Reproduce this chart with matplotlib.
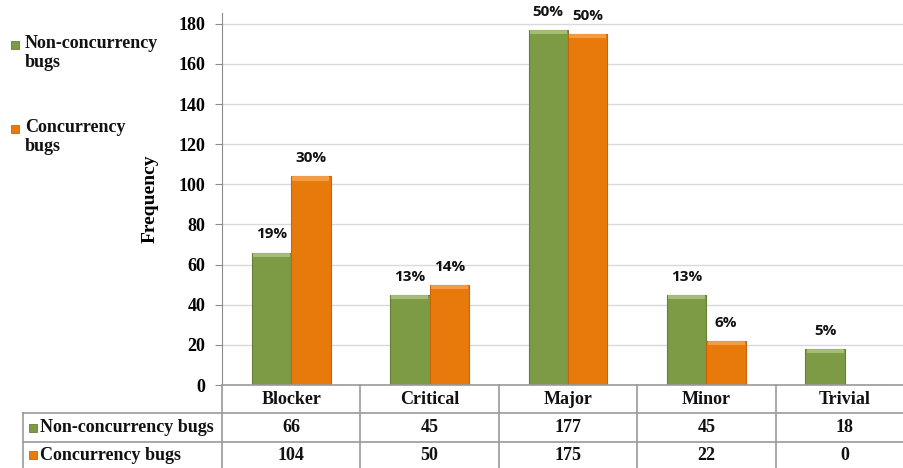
import matplotlib
matplotlib.use("Agg")
import matplotlib.pyplot as plt
from matplotlib.patches import Rectangle
from matplotlib.lines import Line2D
import numpy as np

categories = ["Blocker", "Critical", "Major", "Minor", "Trivial"]
non_conc = [66, 45, 177, 45, 18]
conc = [104, 50, 175, 22, 0]
non_conc_pct = ["19%", "13%", "50%", "13%", "5%"]
conc_pct = ["30%", "14%", "50%", "6%", ""]
series_names = ["Non-concurrency bugs", "Concurrency bugs"]
legend_names = ["Non-concurrency\nbugs", "Concurrency\nbugs"]
yticks = [0, 20, 40, 60, 80, 100, 120, 140, 160, 180]

W, H = 904, 468
fig = plt.figure(figsize=(W / 100, H / 100), dpi=100)

def fx(px):
    return px / W

def fy(py):
    return 1 - py / H

ax_left, ax_right, ax_top, ax_bot = 222, 914, 13, 385
ax = fig.add_axes([fx(ax_left), fy(ax_bot), fx(ax_right - ax_left), (ax_bot - ax_top) / H])

green = "#7d9a45"
green_edge = "#667f36"
green_hi = "#aec383"
orange = "#e8790b"
orange_edge = "#c86508"
orange_hi = "#f4a350"

serif = "Liberation Serif"
sans = "Open Sans"

x = np.arange(len(categories))
bw = 0.285
ax.set_xlim(-0.5, len(categories) - 0.5)
ax.set_ylim(0, 185.4)

ax.grid(axis="y", color="#d9d9d9", linewidth=1.0)
ax.set_axisbelow(True)

for vals, off, c, ce, ch, pcts in [
    (non_conc, -bw / 2, green, green_edge, green_hi, non_conc_pct),
    (conc, bw / 2, orange, orange_edge, orange_hi, conc_pct),
]:
    vals = np.array(vals, dtype=float)
    ax.bar(x + off, vals, width=bw, color=c, edgecolor=ce, linewidth=0.8, zorder=3)
    # bevel highlight on top of each bar
    bev = np.minimum(vals, 2.2)
    ax.bar(x + off, bev, bottom=vals - bev, width=bw * 0.94, color=ch,
           edgecolor="none", zorder=4, alpha=0.85)
    for xi, v, p in zip(x + off, vals, pcts):
        if p:
            ax.annotate(p, (xi, v), xytext=(0, 8), textcoords="offset points",
                        ha="center", va="bottom", fontsize=11, fontweight="bold",
                        family=sans, color="#111111", zorder=5)

for s in ["top", "right", "bottom"]:
    ax.spines[s].set_visible(False)
ax.spines["left"].set_color("#8c8c8c")
ax.set_yticks(yticks)
ax.set_yticklabels([str(t) for t in yticks], fontsize=13, fontweight="bold", family=serif)
ax.tick_params(axis="y", direction="out", length=5, color="#8c8c8c", pad=7)
ax.set_xticks(np.arange(len(categories) + 1) - 0.5)
ax.set_xticklabels([])
ax.tick_params(axis="x", direction="out", length=0)
ax.set_ylabel("Frequency", fontsize=14, fontweight="bold", family=serif, labelpad=14)

# Table below the axes
line_c = "#9a9a9a"
row_y = [385, 413, 442, 468]
tbl_left = 23
trans = fig.transFigure
fig.add_artist(Line2D([fx(ax_left), 1.02], [fy(row_y[0])] * 2, transform=trans, color=line_c, lw=1.2))
for ry in row_y[1:3]:
    fig.add_artist(Line2D([fx(tbl_left), 1.02], [fy(ry)] * 2, transform=trans, color=line_c, lw=1.2))
fig.add_artist(Line2D([fx(tbl_left)] * 2, [fy(row_y[1]), fy(row_y[3])], transform=trans, color=line_c, lw=1.2))
for b in np.arange(len(categories) + 1) - 0.5:
    disp = ax.transData.transform((b, 0))
    xf = fig.transFigure.inverted().transform(disp)[0]
    fig.add_artist(Line2D([xf] * 2, [fy(row_y[0]), fy(row_y[3])], transform=trans, color=line_c, lw=1.2))

def cat_xf(i):
    disp = ax.transData.transform((i, 0))
    return fig.transFigure.inverted().transform(disp)[0]

tfont = dict(fontsize=13, fontweight="bold", family=serif, color="#111111")
for i, c in enumerate(categories):
    fig.text(cat_xf(i), fy((row_y[0] + row_y[1]) / 2), c, ha="center", va="center", **tfont)
    fig.text(cat_xf(i), fy((row_y[1] + row_y[2]) / 2), str(non_conc[i]), ha="center", va="center", **tfont)
    fig.text(cat_xf(i), fy((row_y[2] + row_y[3]) / 2), str(conc[i]), ha="center", va="center", **tfont)

def square(px, py, col, edge):
    fig.add_artist(Rectangle((fx(px), fy(py + 4)), 8 / W, 8 / H, transform=trans,
                             facecolor=col, edgecolor=edge, lw=0.6))

for k, (name, col, edge) in enumerate([(series_names[0], green, green_edge), (series_names[1], orange, orange_edge)]):
    yc = (row_y[1 + k] + row_y[2 + k]) / 2
    square(29, yc, col, edge)
    fig.text(fx(40), fy(yc), name, ha="left", va="center", **tfont)

# Left legend
for k, (name, col, edge, py) in enumerate([(legend_names[0], green, green_edge, 45),
                                           (legend_names[1], orange, orange_edge, 129)]):
    square(11, py, col, edge)
    fig.text(fx(25), fy(py - 10), name, ha="left", va="top", fontsize=13, fontweight="bold",
             family=serif, color="#111111", linespacing=1.15)

fig.savefig("out.png", dpi=100)
